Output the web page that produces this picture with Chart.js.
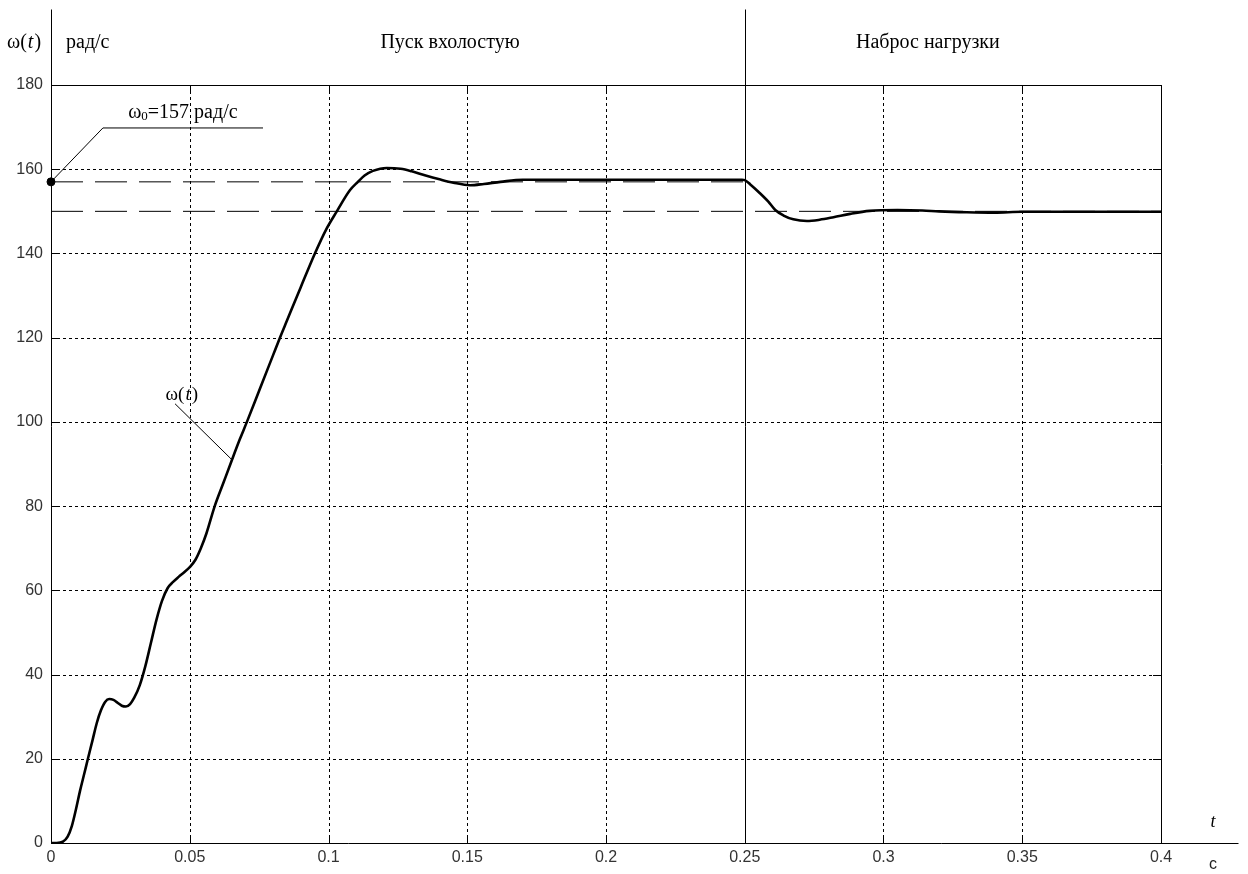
<!DOCTYPE html>
<html>
<head>
<meta charset="utf-8">
<script src="https://cdn.jsdelivr.net/npm/chart.js@4/dist/chart.umd.min.js"></script>
<style>
  html, body { margin: 0; padding: 0; background: #fff; }
  #wrap { width: 1248px; height: 874px; position: relative; }
</style>
</head>
<body>
<div id="wrap"><canvas id="c" width="1248" height="874"></canvas></div>
<script>
// ---- data ----
const timeValues = [0, 0.002, 0.0043, 0.006, 0.0075, 0.009, 0.0105, 0.012, 0.0133, 0.015, 0.0165, 0.018, 0.0195,
  0.021, 0.0225, 0.024, 0.0255, 0.027, 0.0285, 0.030, 0.032, 0.034, 0.036, 0.038, 0.040, 0.042, 0.044, 0.046,
  0.048, 0.050, 0.052, 0.054, 0.056, 0.059, 0.062, 0.065, 0.068, 0.0706, 0.075, 0.080, 0.0825, 0.085, 0.090,
  0.0951, 0.099, 0.103, 0.1077, 0.1106, 0.113, 0.116, 0.121, 0.126, 0.130, 0.135, 0.140, 0.145, 0.151, 0.156,
  0.162, 0.170, 0.200, 0.249, 0.250, 0.252, 0.255, 0.2585, 0.261, 0.264, 0.2675, 0.2724, 0.277, 0.282, 0.288, 0.295,
  0.305, 0.314, 0.320, 0.330, 0.340, 0.350, 0.400];
const omegaValues = [0, 0, 0.3, 1.5, 4, 8, 12.5, 16.5, 20, 24.5, 28.5, 31.5, 33.5,
  34.2, 34, 33.3, 32.6, 32.4, 33, 34.5, 37.5, 42, 47.5, 53, 57.5, 60.5, 62, 63.2,
  64.3, 65.5, 67.2, 70, 73.5, 80, 85.3, 90.6, 95.8, 100, 107.4, 115.8, 120, 124, 132,
  140, 145.5, 150, 155, 157, 158.5, 159.6, 160.3, 160.1, 159.5, 158.5, 157.6, 156.8, 156.2, 156.5,
  157.0, 157.5, 157.5, 157.5, 157.4, 156.4, 154.6, 152.3, 150.3, 149, 148.1, 147.7, 148, 148.6, 149.4, 150.1,
  150.3, 150.2, 150.0, 149.8, 149.7, 149.9, 149.9];

const xTickValues = [0, 0.05, 0.1, 0.15, 0.2, 0.25, 0.3, 0.35, 0.4];
const xTickLabels = ['0', '0.05', '0.1', '0.15', '0.2', '0.25', '0.3', '0.35', '0.4'];
const yTickValues = [0, 20, 40, 60, 80, 100, 120, 140, 160, 180];
const yTickLabels = ['0', '20', '40', '60', '80', '100', '120', '140', '160', '180'];

const refLevels = [157, 150];          // dashed reference levels
const refEndTimes = [0.25, 0.4];       // where each dashed line ends
const phaseBoundary = 0.25;
const phaseLabels = ['Пуск вхолостую', 'Наброс нагрузки'];
const phaseCenters = [0.1438, 0.316];

const omega0Point = [0, 157];
const omega0Leader = { t: [0, 0.0187, 0.0764], w: [157, 169.8, 169.8] };
const omegaLeader = { t: [0.0447, 0.0649], w: [104.3, 91.2] };

// ---- chart ----
function pts(ts, ws) { return ts.map((t, i) => ({ x: t, y: ws[i] })); }

const serif = '"Liberation Serif", "DejaVu Serif", serif';
const sans = '"Liberation Sans", Arial, sans-serif';

const gridPlugin = {
  id: 'grid',
  beforeDatasetsDraw(chart) {
    const { ctx, chartArea: a, scales: { x, y } } = chart;
    ctx.save();
    ctx.strokeStyle = '#000';
    ctx.lineWidth = 1;
    ctx.setLineDash([3, 3]);
    xTickValues.forEach(v => {
      if (v === 0 || v === 0.4 || v === phaseBoundary) return;
      const px = Math.round(x.getPixelForValue(v)) + 0.5;
      ctx.beginPath(); ctx.moveTo(px, a.top); ctx.lineTo(px, a.bottom); ctx.stroke();
    });
    yTickValues.forEach(v => {
      if (v === 0 || v === 180) return;
      const py = Math.round(y.getPixelForValue(v)) + 0.5;
      ctx.beginPath(); ctx.moveTo(a.left, py); ctx.lineTo(a.right, py); ctx.stroke();
    });
    ctx.setLineDash([]);
    // inner tick marks
    const tl = 8;
    xTickValues.forEach(v => {
      const px = Math.round(x.getPixelForValue(v)) + 0.5;
      ctx.beginPath();
      ctx.moveTo(px, a.bottom); ctx.lineTo(px, a.bottom - tl);
      ctx.moveTo(px, a.top); ctx.lineTo(px, a.top + tl);
      ctx.stroke();
    });
    yTickValues.forEach(v => {
      const py = Math.round(y.getPixelForValue(v)) + 0.5;
      ctx.beginPath();
      ctx.moveTo(a.left, py); ctx.lineTo(a.left + tl, py);
      ctx.moveTo(a.right, py); ctx.lineTo(a.right - tl, py);
      ctx.stroke();
    });
    // frame
    const L = Math.round(a.left) + 0.5, R = Math.round(a.right) + 0.5;
    const T = Math.round(a.top) + 0.5, B = Math.round(a.bottom) + 0.5;
    const topExt = T - 76;
    ctx.beginPath();
    ctx.moveTo(L, topExt); ctx.lineTo(L, B);           // left axis, extended up
    ctx.moveTo(L, T); ctx.lineTo(R, T);                // top
    ctx.moveTo(R, T); ctx.lineTo(R, B);                // right
    ctx.moveTo(L, B); ctx.lineTo(R + 77, B);           // bottom axis extended right
    const pb = Math.round(x.getPixelForValue(phaseBoundary)) + 0.5;
    ctx.moveTo(pb, topExt); ctx.lineTo(pb, B);         // phase boundary
    ctx.stroke();
    ctx.restore();
  },
  afterDraw(chart) {
    const { ctx, chartArea: a, scales: { x, y } } = chart;
    ctx.save();
    ctx.fillStyle = '#000';
    ctx.textBaseline = 'middle';
    const headY = a.top - 42;
    ctx.font = '20px ' + serif;
    ctx.textAlign = 'center';
    phaseLabels.forEach((s, i) => ctx.fillText(s, x.getPixelForValue(phaseCenters[i]), headY));
    // axis names
    ctx.textAlign = 'left';
    ctx.font = '20px ' + serif;
    ctx.fillText('рад/с', a.left + 15, headY);
    drawOmegaT(ctx, 7, headY, 20);
    // omega0 label
    ctx.font = '20px ' + serif;
    const ox = x.getPixelForValue(0.0278), oy = y.getPixelForValue(169.8) - 15;
    ctx.fillText('ω', ox, oy);
    let w = ctx.measureText('ω').width;
    ctx.font = '13px ' + serif;
    ctx.fillText('0', ox + w, oy + 4);
    const w2 = ctx.measureText('0').width;
    ctx.font = '20px ' + serif;
    ctx.fillText('=157 рад/с', ox + w + w2, oy);
    // omega(t) label
    drawOmegaT(ctx, x.getPixelForValue(0.0413), y.getPixelForValue(106.5), 19);
    // t and c
    ctx.font = 'italic 18px ' + serif;
    ctx.textAlign = 'center';
    ctx.fillText('t', a.right + 52, a.bottom - 21);
    ctx.font = '16px ' + sans;
    ctx.fillStyle = '#222';
    ctx.fillText('с', a.right + 52, a.bottom + 22);
    ctx.restore();
  }
};

function drawOmegaT(ctx, x0, yc, size) {
  ctx.textAlign = 'left';
  ctx.font = size + 'px ' + serif;
  ctx.fillText('ω(', x0, yc);
  let w = ctx.measureText('ω(').width;
  ctx.font = 'italic ' + size + 'px ' + serif;
  ctx.fillText('t', x0 + w + 1, yc);
  let w2 = ctx.measureText('t').width;
  ctx.font = size + 'px ' + serif;
  ctx.fillText(')', x0 + w + w2 + 2, yc);
}

new Chart(document.getElementById('c'), {
  type: 'line',
  data: {
    datasets: [
      { data: pts(timeValues, omegaValues), borderColor: '#000', borderWidth: 2.6, pointRadius: 0,
        cubicInterpolationMode: 'monotone', order: 0 },
      { data: pts([0, refEndTimes[0]], [refLevels[0], refLevels[0]]), borderColor: '#000', borderWidth: 1,
        borderDash: [32, 12], pointRadius: 0, order: 2 },
      { data: pts([0, refEndTimes[1]], [refLevels[1], refLevels[1]]), borderColor: '#000', borderWidth: 1,
        borderDash: [32, 12], pointRadius: 0, order: 2 },
      { data: pts(omega0Leader.t, omega0Leader.w), borderColor: '#000', borderWidth: 1, pointRadius: 0,
        clip: false, order: 1 },
      { data: pts(omegaLeader.t, omegaLeader.w), borderColor: '#000', borderWidth: 1, pointRadius: 0, order: 1 },
      { data: [{ x: omega0Point[0], y: omega0Point[1] }], showLine: false, pointRadius: 4,
        pointBackgroundColor: '#000', pointBorderColor: '#000', clip: false, order: -1 }
    ]
  },
  options: {
    responsive: false,
    animation: false,
    events: [],
    layout: { padding: { top: 85, right: 87, left: 0, bottom: 0 } },
    plugins: { legend: { display: false }, tooltip: { enabled: false } },
    scales: {
      x: {
        type: 'linear', min: 0, max: 0.4,
        afterBuildTicks: s => { s.ticks = xTickValues.map(v => ({ value: v })); },
        afterFit: s => { s.height = 31; },
        grid: { display: false, drawTicks: false },
        border: { display: false },
        ticks: { autoSkip: false, maxRotation: 0, padding: 5, color: '#333',
          font: { family: sans, size: 16 },
          callback: (v, i) => xTickLabels[i] }
      },
      y: {
        type: 'linear', min: 0, max: 180,
        afterBuildTicks: s => { s.ticks = yTickValues.map(v => ({ value: v })); },
        afterFit: s => { s.width = 51; },
        grid: { display: false, drawTicks: false },
        border: { display: false },
        ticks: { autoSkip: false, padding: 8, color: '#333',
          font: { family: sans, size: 16 },
          callback: (v, i) => yTickLabels[i] }
      }
    }
  },
  plugins: [gridPlugin]
});
</script>
</body>
</html>
